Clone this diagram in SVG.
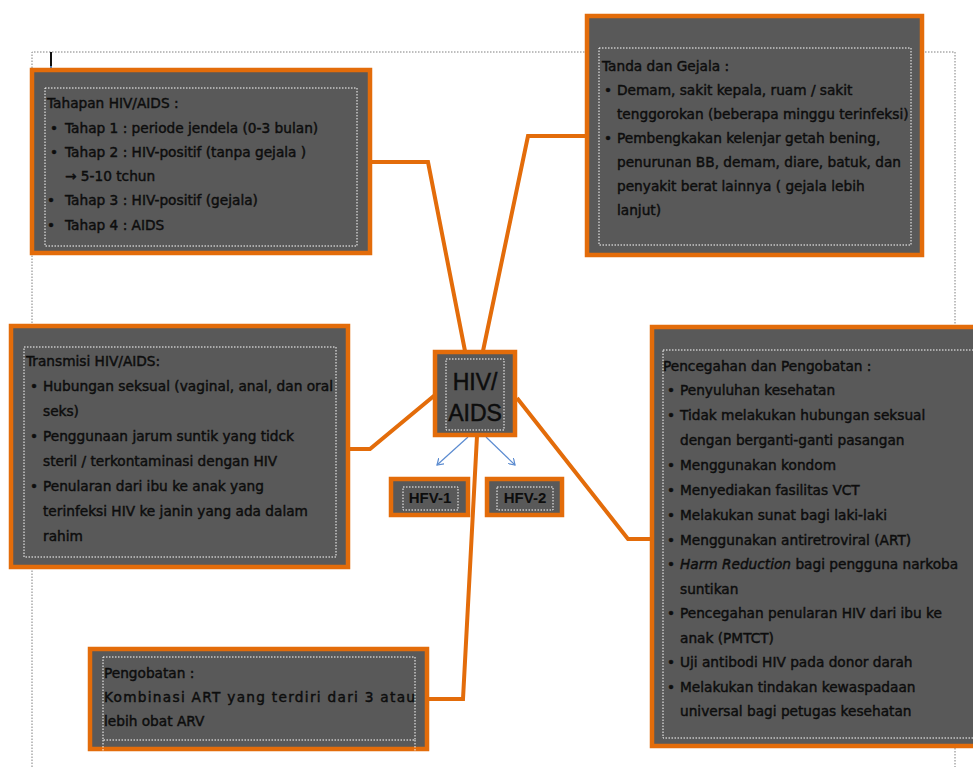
<svg xmlns="http://www.w3.org/2000/svg" width="973" height="767" viewBox="0 0 973 767">
<defs>
<style>
.box{fill:#595959;stroke:#E36C0A;stroke-width:4.5}
.dot{fill:none;stroke:#ffffff;stroke-width:1;stroke-dasharray:1.5 1.5}
.page{fill:none;stroke:#7f7f7f;stroke-width:1;stroke-dasharray:1.5 1.5}
.t{font-family:"DejaVu Sans",sans-serif;font-size:13.7px;fill:#0d0d0d;stroke:#0d0d0d;stroke-width:0.45}
.c{font-family:"Liberation Sans",sans-serif;fill:#0d0d0d;text-anchor:middle}
.con{fill:none;stroke:#E36C0A;stroke-width:4;stroke-linejoin:miter}
.blue{fill:none;stroke:#5B8BD0;stroke-width:1.2;marker-end:url(#ah)}
</style>
<marker id="ah" markerWidth="8" markerHeight="8" refX="6" refY="4" orient="auto" markerUnits="userSpaceOnUse">
<path d="M0,0 L6,4 L0,8" fill="none" stroke="#5B8BD0" stroke-width="1.2"/>
</marker>
</defs>
<rect width="973" height="767" fill="#ffffff"/>
<g id="page">
<path class="page" d="M32,767 V52 H955 V767"/>
<line x1="51" y1="52" x2="51" y2="66" stroke="#111" stroke-width="2"/>
<line x1="51" y1="66" x2="51" y2="71" stroke="#4F81BD" stroke-width="2"/>
</g>
<g id="connectors">
<polyline class="con" points="370,162 428,162 465,351"/>
<polyline class="con" points="587,136 528,136 483,351"/>
<polyline class="con" points="349,449 370,449 435,395"/>
<polyline class="con" points="517,398 628,539 653,539"/>
<polyline class="con" points="477,436 463,699 427,699"/>
<line class="blue" x1="468" y1="437" x2="437" y2="465"/>
<line class="blue" x1="486" y1="437" x2="515" y2="465"/>
</g>
<g id="tahapan">
<rect class="box" x="32" y="70" width="338" height="183"/>
<rect class="dot" x="45" y="88" width="312" height="158"/>
<text class="t" x="47" y="108">Tahapan HIV/AIDS :</text>
<text class="t" x="50" y="133">•</text><text class="t" x="65" y="133">Tahap 1 : periode jendela (0-3 bulan)</text>
<text class="t" x="50" y="157">•</text><text class="t" x="65" y="157">Tahap 2 : HIV-positif (tanpa gejala )</text>
<text class="t" x="65" y="181">→ 5-10 tchun</text>
<text class="t" x="47" y="205">•</text><text class="t" x="65" y="205">Tahap 3 : HIV-positif (gejala)</text>
<text class="t" x="47" y="230">•</text><text class="t" x="65" y="230">Tahap 4 : AIDS</text>
</g>
<g id="tanda">
<rect class="box" x="587" y="16" width="335" height="239"/>
<rect class="dot" x="599" y="48" width="312" height="197"/>
<text class="t" x="602" y="71">Tanda dan Gejala :</text>
<text class="t" x="604" y="95">•</text><text class="t" x="617" y="95">Demam, sakit kepala, ruam / sakit</text>
<text class="t" x="617" y="119">tenggorokan (beberapa minggu terinfeksi)</text>
<text class="t" x="604" y="143">•</text><text class="t" x="617" y="143">Pembengkakan kelenjar getah bening,</text>
<text class="t" x="617" y="167">penurunan BB, demam, diare, batuk, dan</text>
<text class="t" x="617" y="191">penyakit berat lainnya ( gejala lebih</text>
<text class="t" x="617" y="215">lanjut)</text>
</g>
<g id="transmisi">
<rect class="box" x="11" y="326" width="337" height="241"/>
<rect class="dot" x="24" y="347" width="312" height="210"/>
<text class="t" x="26" y="366">Transmisi HIV/AIDS:</text>
<text class="t" x="30" y="391">•</text><text class="t" x="43" y="391" textLength="290" lengthAdjust="spacingAndGlyphs">Hubungan seksual (vaginal, anal, dan oral</text>
<text class="t" x="43" y="416">seks)</text>
<text class="t" x="30" y="441">•</text><text class="t" x="43" y="441">Penggunaan jarum suntik yang tidck</text>
<text class="t" x="43" y="466">steril / terkontaminasi dengan HIV</text>
<text class="t" x="30" y="491">•</text><text class="t" x="43" y="491">Penularan dari ibu ke anak yang</text>
<text class="t" x="43" y="516">terinfeksi HIV ke janin yang ada dalam</text>
<text class="t" x="43" y="541">rahim</text>
</g>
<g id="hiv">
<rect class="box" x="435" y="352" width="80" height="83"/>
<rect class="dot" x="446" y="359" width="58" height="71"/>
<text class="c" x="475" y="390" font-size="23" stroke="#0d0d0d" stroke-width="0.5">HIV/</text>
<text class="c" x="475" y="421" font-size="23" stroke="#0d0d0d" stroke-width="0.5">AIDS</text>
</g>
<g id="hfv1">
<rect class="box" x="391" y="479" width="77" height="36"/>
<rect class="dot" x="403" y="487" width="55" height="23"/>
<text class="c" x="430" y="503" font-size="15" font-weight="bold">HFV-1</text>
</g>
<g id="hfv2">
<rect class="box" x="487" y="479" width="75" height="36"/>
<rect class="dot" x="497" y="487" width="56" height="23"/>
<text class="c" x="525" y="503" font-size="15" font-weight="bold">HFV-2</text>
</g>
<g id="pencegahan">
<rect class="box" x="652" y="327" width="340" height="419"/>
<rect class="dot" x="663" y="350" width="330" height="388"/>
<text class="t" x="663" y="371">Pencegahan dan Pengobatan :</text>
<text class="t" x="667" y="395">•</text><text class="t" x="680" y="395">Penyuluhan kesehatan</text>
<text class="t" x="667" y="420">•</text><text class="t" x="680" y="420">Tidak melakukan hubungan seksual</text>
<text class="t" x="680" y="445">dengan berganti-ganti pasangan</text>
<text class="t" x="667" y="470">•</text><text class="t" x="680" y="470">Menggunakan kondom</text>
<text class="t" x="667" y="495">•</text><text class="t" x="680" y="495">Menyediakan fasilitas VCT</text>
<text class="t" x="667" y="520">•</text><text class="t" x="680" y="520">Melakukan sunat bagi laki-laki</text>
<text class="t" x="667" y="545">•</text><text class="t" x="680" y="545">Menggunakan antiretroviral (ART)</text>
<text class="t" x="667" y="569">•</text><text class="t" x="680" y="569"><tspan font-style="italic">Harm Reduction</tspan> bagi pengguna narkoba</text>
<text class="t" x="680" y="594">suntikan</text>
<text class="t" x="667" y="618">•</text><text class="t" x="680" y="618">Pencegahan penularan HIV dari ibu ke</text>
<text class="t" x="680" y="643">anak (PMTCT)</text>
<text class="t" x="667" y="667">•</text><text class="t" x="680" y="667">Uji antibodi HIV pada donor darah</text>
<text class="t" x="667" y="692">•</text><text class="t" x="680" y="692">Melakukan tindakan kewaspadaan</text>
<text class="t" x="680" y="716">universal bagi petugas kesehatan</text>
</g>
<g id="pengobatan">
<rect class="box" x="90" y="649" width="337" height="100"/>
<rect class="dot" x="103" y="657" width="312" height="83"/>
<line class="dot" x1="103" y1="740" x2="103" y2="757"/>
<line class="dot" x1="415" y1="740" x2="415" y2="757"/>
<text class="t" x="104" y="678">Pengobatan :</text>
<text class="t" x="104" y="702" textLength="311" lengthAdjust="spacing">Kombinasi ART yang terdiri dari 3 atau</text>
<text class="t" x="104" y="726">lebih obat ARV</text>
</g>
</svg>
